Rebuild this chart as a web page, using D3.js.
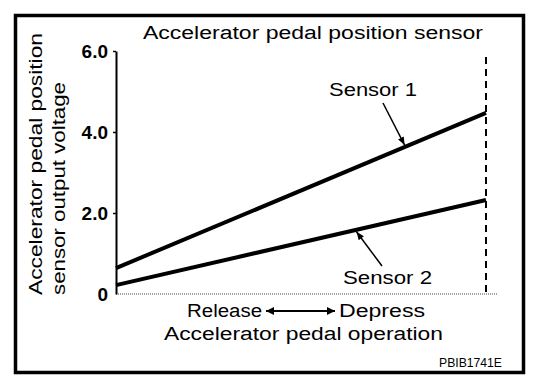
<!DOCTYPE html>
<html>
<head>
<meta charset="utf-8">
<script src="https://cdn.jsdelivr.net/npm/d3@7"></script>
<style>
  body { margin: 0; background: #fff; }
  text { font-family: "Liberation Sans", Arial, sans-serif; fill: #000; }
</style>
</head>
<body>
<div id="viz"></div>
<script>
// data
let pedal = [0, 100];            // pedal operation, % (release -> depress)
let sensor1 = [0.64, 4.47];      // output voltage, V
let sensor2 = [0.22, 2.32];
let yTicks = [0, 2, 4, 6];
let yTickLabels = ["0", "2.0", "4.0", "6.0"];

let svgWidth = 560, svgHeight = 388;

const svg = d3.select('#viz')
    .append('svg')
    .attr('width', svgWidth)
    .attr('height', svgHeight);

// frame
svg.append('rect')
    .attr('x', 15.5).attr('y', 15.5)
    .attr('width', 508).attr('height', 357)
    .attr('fill', 'none')
    .attr('stroke', 'black')
    .attr('stroke-width', 3.5);

let xScale = d3.scaleLinear().domain([0, 100]).range([116, 486]);
let yScale = d3.scaleLinear().domain([0, 6]).range([294, 51]);

// x axis (thin dotted)
svg.append('line')
    .attr('x1', xScale(0)).attr('x2', xScale(103))
    .attr('y1', yScale(0)).attr('y2', yScale(0))
    .attr('stroke', '#444')
    .attr('stroke-width', 1)
    .attr('stroke-dasharray', '1,1');

// y axis
let yAxis = d3.axisLeft(yScale)
    .tickValues(yTicks)
    .tickFormat((d, i) => yTickLabels[i])
    .tickSizeInner(3)
    .tickSizeOuter(0)
    .tickPadding(5);

let gy = svg.append('g')
    .attr('transform', `translate(${xScale(0)},0)`)
    .call(yAxis);
gy.select('.domain').attr('stroke', 'black').attr('stroke-width', 2);
gy.selectAll('.tick line').attr('stroke', 'black').attr('stroke-width', 1.5)
    .attr('opacity', (d) => d == 0 ? 0 : 1);
gy.selectAll('.tick text')
    .style('font-family', '"Liberation Sans", Arial, sans-serif')
    .attr('font-size', 19)
    .attr('font-weight', 'bold');

// full depress dashed line
svg.append('line')
    .attr('x1', xScale(100)).attr('x2', xScale(100))
    .attr('y1', 57).attr('y2', yScale(0))
    .attr('stroke', 'black')
    .attr('stroke-width', 2)
    .attr('stroke-dasharray', '7,5');

// sensor lines
let line = d3.line()
    .x((d, i) => xScale(pedal[i]))
    .y(d => yScale(d));

[sensor1, sensor2].forEach(s => {
    svg.append('path')
        .datum(s)
        .attr('d', line)
        .attr('fill', 'none')
        .attr('stroke', 'black')
        .attr('stroke-width', 4);
});

// arrowheads
let defs = svg.append('defs');
defs.append('marker')
    .attr('id', 'arr')
    .attr('viewBox', '0 0 10 10')
    .attr('refX', 10).attr('refY', 5)
    .attr('markerWidth', 10).attr('markerHeight', 8)
    .attr('markerUnits', 'userSpaceOnUse')
    .attr('orient', 'auto')
    .append('path')
    .attr('d', 'M0,1 L10,5 L0,9 Z')
    .attr('fill', 'black');

// callout arrows to lines
function lerp(s, p) { return s[0] + (s[1] - s[0]) * p / 100; }
svg.append('line')
    .attr('x1', 383).attr('y1', 103)
    .attr('x2', xScale(78)).attr('y2', yScale(lerp(sensor1, 78)) - 2)
    .attr('stroke', 'black').attr('stroke-width', 1.5)
    .attr('marker-end', 'url(#arr)');
svg.append('line')
    .attr('x1', 382).attr('y1', 266)
    .attr('x2', xScale(65)).attr('y2', yScale(lerp(sensor2, 65)) + 2)
    .attr('stroke', 'black').attr('stroke-width', 1.5)
    .attr('marker-end', 'url(#arr)');

// texts
function label(x, y, str, len, anchor, size) {
    return svg.append('text')
        .attr('x', x).attr('y', y)
        .attr('text-anchor', anchor || 'start')
        .attr('font-size', size || 18)
        .attr('textLength', len)
        .attr('lengthAdjust', 'spacingAndGlyphs')
        .text(str);
}

label(143, 39, 'Accelerator pedal position sensor', 340);
label(329, 96, 'Sensor 1', 88);
label(343, 284, 'Sensor 2', 89);
label(187, 317, 'Release', 75);
label(339, 317, 'Depress', 86);
label(164, 340, 'Accelerator pedal operation', 279);
label(439, 367, 'PBIB1741E', 63, 'start', 12);

defs.append('marker')
    .attr('id', 'arr2')
    .attr('viewBox', '0 0 10 10')
    .attr('refX', 10).attr('refY', 5)
    .attr('markerWidth', 12).attr('markerHeight', 8)
    .attr('markerUnits', 'userSpaceOnUse')
    .attr('orient', 'auto-start-reverse')
    .append('path')
    .attr('d', 'M0,0 L10,5 L0,10 Z')
    .attr('fill', 'black');
svg.append('line')
    .attr('x1', 266).attr('x2', 335)
    .attr('y1', 311).attr('y2', 311)
    .attr('stroke', 'black').attr('stroke-width', 2)
    .attr('marker-start', 'url(#arr2)')
    .attr('marker-end', 'url(#arr2)');

label(0, 0, 'Accelerator pedal position', 262)
    .attr('transform', 'translate(42,295) rotate(-90)');
label(0, 0, 'sensor output voltage', 213)
    .attr('transform', 'translate(65,295) rotate(-90)');
</script>
</body>
</html>
